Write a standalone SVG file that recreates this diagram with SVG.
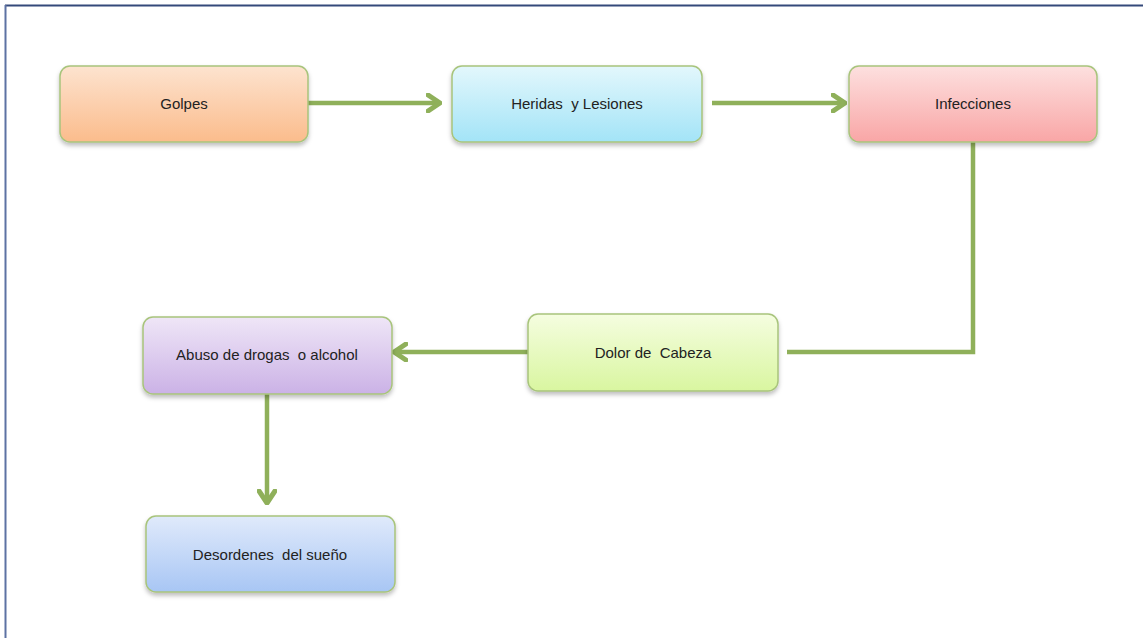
<svg xmlns="http://www.w3.org/2000/svg" width="1143" height="638" viewBox="0 0 1143 638">
<defs>
<linearGradient id="gOr" x1="0" y1="0" x2="0" y2="1"><stop offset="0" stop-color="#fde3cf"/><stop offset="1" stop-color="#fbbc8c"/></linearGradient>
<linearGradient id="gBl" x1="0" y1="0" x2="0" y2="1"><stop offset="0" stop-color="#e3f7fc"/><stop offset="1" stop-color="#a3e4f7"/></linearGradient>
<linearGradient id="gRd" x1="0" y1="0" x2="0" y2="1"><stop offset="0" stop-color="#fde0df"/><stop offset="1" stop-color="#f9a6a6"/></linearGradient>
<linearGradient id="gGr" x1="0" y1="0" x2="0" y2="1"><stop offset="0" stop-color="#f5fde0"/><stop offset="1" stop-color="#d9f6a0"/></linearGradient>
<linearGradient id="gPu" x1="0" y1="0" x2="0" y2="1"><stop offset="0" stop-color="#efe6f7"/><stop offset="1" stop-color="#cbb2e6"/></linearGradient>
<linearGradient id="gSk" x1="0" y1="0" x2="0" y2="1"><stop offset="0" stop-color="#e0eafb"/><stop offset="1" stop-color="#a8c6f4"/></linearGradient>
<filter id="sh" x="-10%" y="-10%" width="120%" height="140%"><feDropShadow dx="0" dy="3" stdDeviation="2" flood-color="#000" flood-opacity="0.25"/></filter>
<marker id="ah" markerUnits="userSpaceOnUse" markerWidth="16" markerHeight="20" refX="14" refY="10" orient="auto"><path d="M2,2 L14,10 L2,18" fill="none" stroke="#8fb05a" stroke-width="5" stroke-linecap="round" stroke-linejoin="round"/></marker>
</defs>
<style>
.box{stroke:#a8c47c;stroke-width:1.5;filter:url(#sh)}
.lbl{font-family:"Liberation Sans",Arial,sans-serif;font-size:15px;fill:#222;text-anchor:middle;dominant-baseline:central;white-space:pre}
.con{fill:none;stroke:#8fb05a;stroke-width:4.5}
</style>
<rect x="0" y="0" width="1143" height="638" fill="#fff"/>
<line x1="5" y1="5.5" x2="1143" y2="5.5" stroke="#34497a" stroke-width="2"/>
<line x1="5.5" y1="5" x2="5.5" y2="638" stroke="#5d72a3" stroke-width="2"/>
<g id="connectors">
<line class="con" x1="308" y1="103" x2="440" y2="103" marker-end="url(#ah)"/>
<line class="con" x1="712" y1="103" x2="845" y2="103" marker-end="url(#ah)"/>
<polyline class="con" points="973,142 973,352 787,352"/>
<line class="con" x1="528" y1="352" x2="394" y2="352" marker-end="url(#ah)"/>
<line class="con" x1="267" y1="394" x2="267" y2="503" marker-end="url(#ah)"/>
</g>
<g id="golpes"><rect class="box" x="60" y="66" width="248" height="76" rx="10" fill="url(#gOr)"/><text class="lbl" x="184" y="103">Golpes</text></g>
<g id="heridas"><rect class="box" x="452" y="66" width="250" height="76" rx="10" fill="url(#gBl)"/><text class="lbl" x="577" y="103" xml:space="preserve">Heridas  y Lesiones</text></g>
<g id="infecciones"><rect class="box" x="849" y="66" width="248" height="76" rx="10" fill="url(#gRd)"/><text class="lbl" x="973" y="103">Infecciones</text></g>
<g id="dolor"><rect class="box" x="528" y="314" width="250" height="77" rx="10" fill="url(#gGr)"/><text class="lbl" x="653" y="352" xml:space="preserve">Dolor de  Cabeza</text></g>
<g id="abuso"><rect class="box" x="143" y="317" width="249" height="77" rx="10" fill="url(#gPu)"/><text class="lbl" x="267" y="354" xml:space="preserve">Abuso de drogas  o alcohol</text></g>
<g id="desordenes"><rect class="box" x="146" y="516" width="249" height="76" rx="10" fill="url(#gSk)"/><text class="lbl" x="270" y="554" xml:space="preserve">Desordenes  del sueño</text></g>
</svg>
